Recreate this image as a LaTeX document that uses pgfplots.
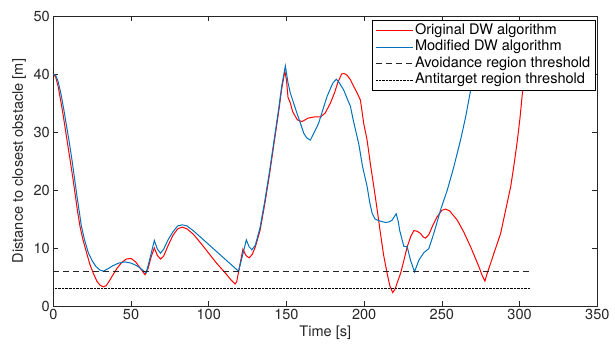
\documentclass[border=0pt]{standalone}
\usepackage{pgfplots}
\pgfplotsset{compat=1.18}
\usepackage{fontspec}
\setmainfont{TeX Gyre Heros}
\definecolor{mred}{rgb}{1,0,0}
\definecolor{mblue}{rgb}{0,0.447,0.741}
\definecolor{axgray}{rgb}{0.15,0.15,0.15}
\newcommand{\chartfont}{\fontsize{14.6}{17}\selectfont}
\begin{document}
\begin{tikzpicture}
\begin{axis}[
  scale only axis, width=544bp, height=290bp,
  xmin=0, xmax=350, ymin=0, ymax=50,
  xtick={0,50,...,350}, ytick={0,10,...,50},
  tick align=inside, major tick length=5bp,
  axis line style={line width=0.5bp, axgray},
  every tick/.style={axgray, line width=0.5bp},
  tick label style={font=\chartfont, text=axgray},
  /pgf/number format/assume math mode=true,
  xlabel={Time [s]}, ylabel={Distance to closest obstacle [m]},
  every axis x label/.style={at={(axis description cs:0.5,-0.093)}, anchor=center, font=\chartfont, text=axgray},
  every axis y label/.style={at={(axis description cs:-0.063,0.5)}, anchor=center, rotate=90, font=\chartfont, text=axgray},
  legend style={at={(axis description cs:0.9958,0.986)}, anchor=north east, draw=black, line width=0.5bp, fill=white, font=\chartfont, inner xsep=3bp, inner ysep=2bp, row sep=0pt, nodes={inner sep=1.5bp, text height=10.5bp, text depth=3bp}},
  legend cell align=left,
  legend image code/.code={\draw[#1] (0bp,0bp) -- (37bp,0bp);},
]
\addplot[mred, line width=1bp] coordinates {
(0,40) (1.5,39.5) (3,38) (4.3,36.1) (6,33.5) (7.5,30.9) (9,28.3) (10.8,25.2) (12.5,22.2) (14,19.4) (15.5,16.5) (17.2,13.7) (19,11.5) (21.5,9.1) (23.5,7.2) (25.8,5.6) (28,4.3) (30,3.6) (32.2,3.3) (34,3.5) (36,4.3) (38,5.2) (41,6.5) (44,7.5) (47,8.1) (50,8.2) (53,7.6) (56,6.5) (59,5.4) (61,6.5) (63,8.5) (65,10) (67,8.7) (69,8.1) (71,8.6) (74,10.5) (77,12.2) (80,13.3) (83,13.6) (86,13.3) (90,12.4) (95,10.8) (100,9.1) (105,7.4) (110,5.9) (114,4.6) (117,3.8) (118,4.2) (120,7) (122,9.8) (124,8.7) (126,8.3) (128,8.9) (130,10.2) (133,13) (136,17.5) (139,22.5) (142,28) (145,33.5) (147,37.5) (149,40.5) (150,39) (151,36) (152.5,35) (154,33.5) (157,32.1) (160,31.8) (164,32.4) (168,32.6) (172,32.6) (175,33.3) (178.3,35) (181,36.8) (183,38.5) (185.5,40) (187,40.1) (189,39.8) (191.2,39) (193,38) (195,37) (197.6,35.5) (199.7,31.5) (201.9,28.6) (204,24.5) (206.2,20.6) (208,17.3) (210.5,12.5) (212.5,8.8) (214.8,5.6) (216.5,3.5) (218.4,2.3) (220,3) (221.5,4.2) (223.4,5.6) (225.5,7.8) (227.7,10.2) (230,12) (232,13) (234,12.9) (236.3,12.5) (238,11.9) (239.5,11.7) (241.6,12.3) (244,13.8) (247,15.4) (250,16.5) (252.4,16.7) (255,16.4) (259.9,14.8) (264,12.8) (268.5,10.2) (271,8.6) (273.8,6.8) (276,5.2) (277.7,4.3) (279,5.5) (281.4,7.4) (284,9.5) (287.8,12.5) (291,16.5) (294.3,20.6) (296.5,24.5) (298.6,28.6) (300.3,32.5) (301.8,36.7) (303.5,40) (305.5,42)
};
\addlegendentry{Original DW algorithm}
\addplot[mblue, line width=1bp] coordinates {
(0,40) (1.5,39.8) (3,38.8) (5,36.5) (7,33.5) (8.6,30.9) (10,28.7) (12,25.2) (15,19.4) (18,13.9) (20,11.5) (22.5,9.2) (25,7.8) (27.5,6.8) (30,6.2) (32.2,6.0) (35,6.4) (38,6.9) (42,7.4) (46,7.6) (50,7.4) (54,6.9) (57,6.3) (59.7,5.7) (62,8) (65,11.3) (67,9.8) (69,9.1) (71,9.8) (74,11.5) (77,12.8) (80,13.8) (83,14) (86,13.8) (90,13) (95,11.8) (100,10.6) (105,9.4) (110,8.2) (115,7) (119.2,6.0) (122,9) (124.2,11.4) (126,10.2) (127.8,9.7) (130,10.5) (133,13.5) (136,18) (139,23) (142,28.5) (145,34) (147,38) (149.3,41.4) (151,38.5) (152.5,36.7) (154,35.5) (156.8,33.2) (159,31.5) (161.1,29.8) (163,29) (165.4,28.6) (168,30) (170.7,31.5) (173,33.5) (176.1,36.1) (178.3,37.5) (180,38.5) (182.1,39.1) (184,38.5) (186.9,37.2) (189,35.8) (191.2,34.4) (193,32) (196.5,28) (199,24) (201.9,20.6) (203.5,18) (205.1,16) (207,15) (209.4,14.7) (213.7,14.4) (216,14.5) (218,14.8) (220.6,15.9) (222,14.5) (222.8,13.1) (225.5,10.3) (227.7,10.2) (229.8,7.9) (232.4,5.9) (235.2,7.9) (238.4,9.2) (241.6,9.9) (244.8,12.5) (249.2,16.6) (253.5,20) (257.7,24) (262,28.6) (265.3,32.6) (268.5,37.2) (270.5,40)
};
\addlegendentry{Modified DW algorithm}
\addplot[black!85, line width=1bp, dash pattern=on 6bp off 4bp] coordinates {(0,6) (307,6)};
\addlegendentry{Avoidance region threshold}
\addplot[black, line width=0.7bp, dash pattern=on 0.7bp off 0.7bp] coordinates {(0,3) (307,3)};
\addlegendentry{Antitarget region threshold}
\end{axis}
\path (current axis.south west) ++(-53.3bp,-38bp) rectangle ++(615bp,344bp);
\end{tikzpicture}
\end{document}
